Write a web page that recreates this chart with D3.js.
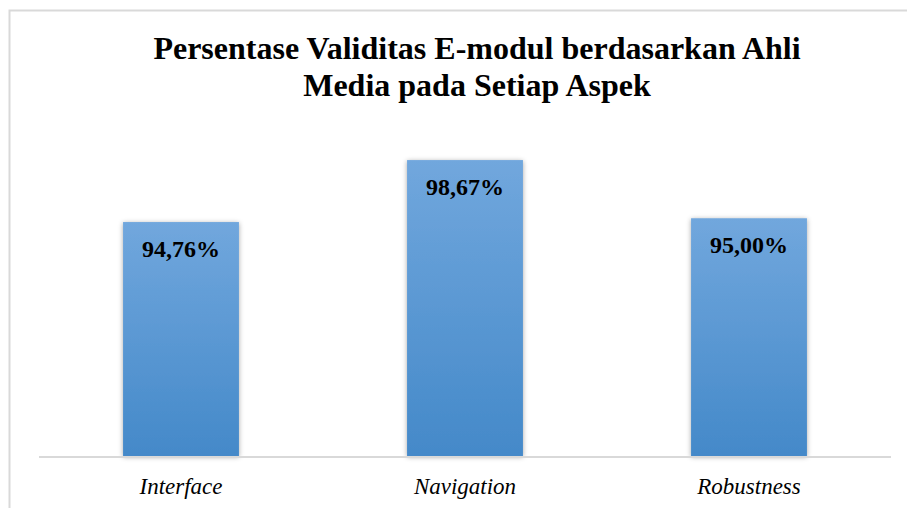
<!DOCTYPE html>
<html>
<head>
<meta charset="utf-8">
<script src="https://cdn.jsdelivr.net/npm/d3@7"></script>
<style>
  body { margin: 0; background: #fff; }
  svg { display: block; }
</style>
</head>
<body>
<svg id="chart"></svg>
<script>
const categories = ["Interface", "Navigation", "Robustness"];
const values = [94.76, 98.67, 95.00];
const valueLabels = ["94,76%", "98,67%", "95,00%"];
const yDomain = [80, 100];

const width = 907, height = 508;
const margin = { top: 139, right: 16, bottom: 52, left: 39 };
const serif = "'Liberation Serif', 'Times New Roman', serif";

const svg = d3.select("#chart").attr("width", width).attr("height", height);

// outer frame (only top and left edges visible in the crop)
svg.append("rect")
  .attr("x", 9.5).attr("y", 10.5)
  .attr("width", width + 20).attr("height", height + 20)
  .style("fill", "none")
  .style("stroke", "#d9d9d9")
  .style("stroke-width", 2);

const defs = svg.append("defs");
const grad = defs.append("linearGradient")
  .attr("id", "barGrad")
  .attr("x1", 0).attr("y1", 0).attr("x2", 0).attr("y2", 1);
grad.append("stop").attr("offset", "0%").attr("stop-color", "#71a7dd");
grad.append("stop").attr("offset", "100%").attr("stop-color", "#4489c9");

const shadow = defs.append("filter")
  .attr("id", "shadow")
  .attr("x", "-20%").attr("y", "-20%").attr("width", "140%").attr("height", "140%");
shadow.append("feDropShadow")
  .attr("dx", 0).attr("dy", 1)
  .attr("stdDeviation", 2.5)
  .attr("flood-color", "#000")
  .attr("flood-opacity", 0.35);

const x = d3.scaleBand()
  .domain(categories)
  .range([margin.left, width - margin.right])
  .paddingInner(0.592)
  .paddingOuter(0.296);

const y = d3.scaleLinear()
  .domain(yDomain)
  .range([height - margin.bottom, margin.top]);

// bars
svg.append("g")
  .selectAll("rect")
  .data(values)
  .join("rect")
  .attr("x", (d, i) => x(categories[i]))
  .attr("y", d => y(d))
  .attr("width", x.bandwidth())
  .attr("height", d => y(yDomain[0]) - y(d))
  .style("fill", "url(#barGrad)")
  .style("filter", "url(#shadow)");

// baseline
svg.append("line")
  .attr("x1", margin.left).attr("x2", width - margin.right)
  .attr("y1", y(yDomain[0]) + 1).attr("y2", y(yDomain[0]) + 1)
  .style("stroke", "#d9d9d9")
  .style("stroke-width", 2);

// value labels
svg.append("g")
  .selectAll("text")
  .data(values)
  .join("text")
  .attr("x", (d, i) => x(categories[i]) + x.bandwidth() / 2)
  .attr("y", d => y(d) + 35)
  .attr("text-anchor", "middle")
  .style("font-family", serif)
  .style("font-weight", "bold")
  .style("font-size", "24px")
  .style("fill", "#000")
  .text((d, i) => valueLabels[i]);

// category labels
const xAxis = svg.append("g")
  .attr("transform", `translate(0,${y(yDomain[0])})`)
  .call(d3.axisBottom(x).tickSize(0).tickPadding(0));
xAxis.select(".domain").remove();
xAxis.attr("font-family", null).attr("font-size", null);
xAxis.selectAll("text")
  .attr("dy", 0)
  .attr("y", 38)
  .style("font-family", serif)
  .style("font-style", "italic")
  .style("font-size", "23px")
  .style("fill", "#000");

// title
const title = svg.append("text")
  .attr("text-anchor", "middle")
  .style("font-family", serif)
  .style("font-weight", "bold")
  .style("font-size", "32px")
  .style("fill", "#000");
title.append("tspan").attr("x", 477).attr("y", 59).text("Persentase Validitas E-modul berdasarkan Ahli");
title.append("tspan").attr("x", 477).attr("y", 96).text("Media pada Setiap Aspek");
</script>
</body>
</html>
